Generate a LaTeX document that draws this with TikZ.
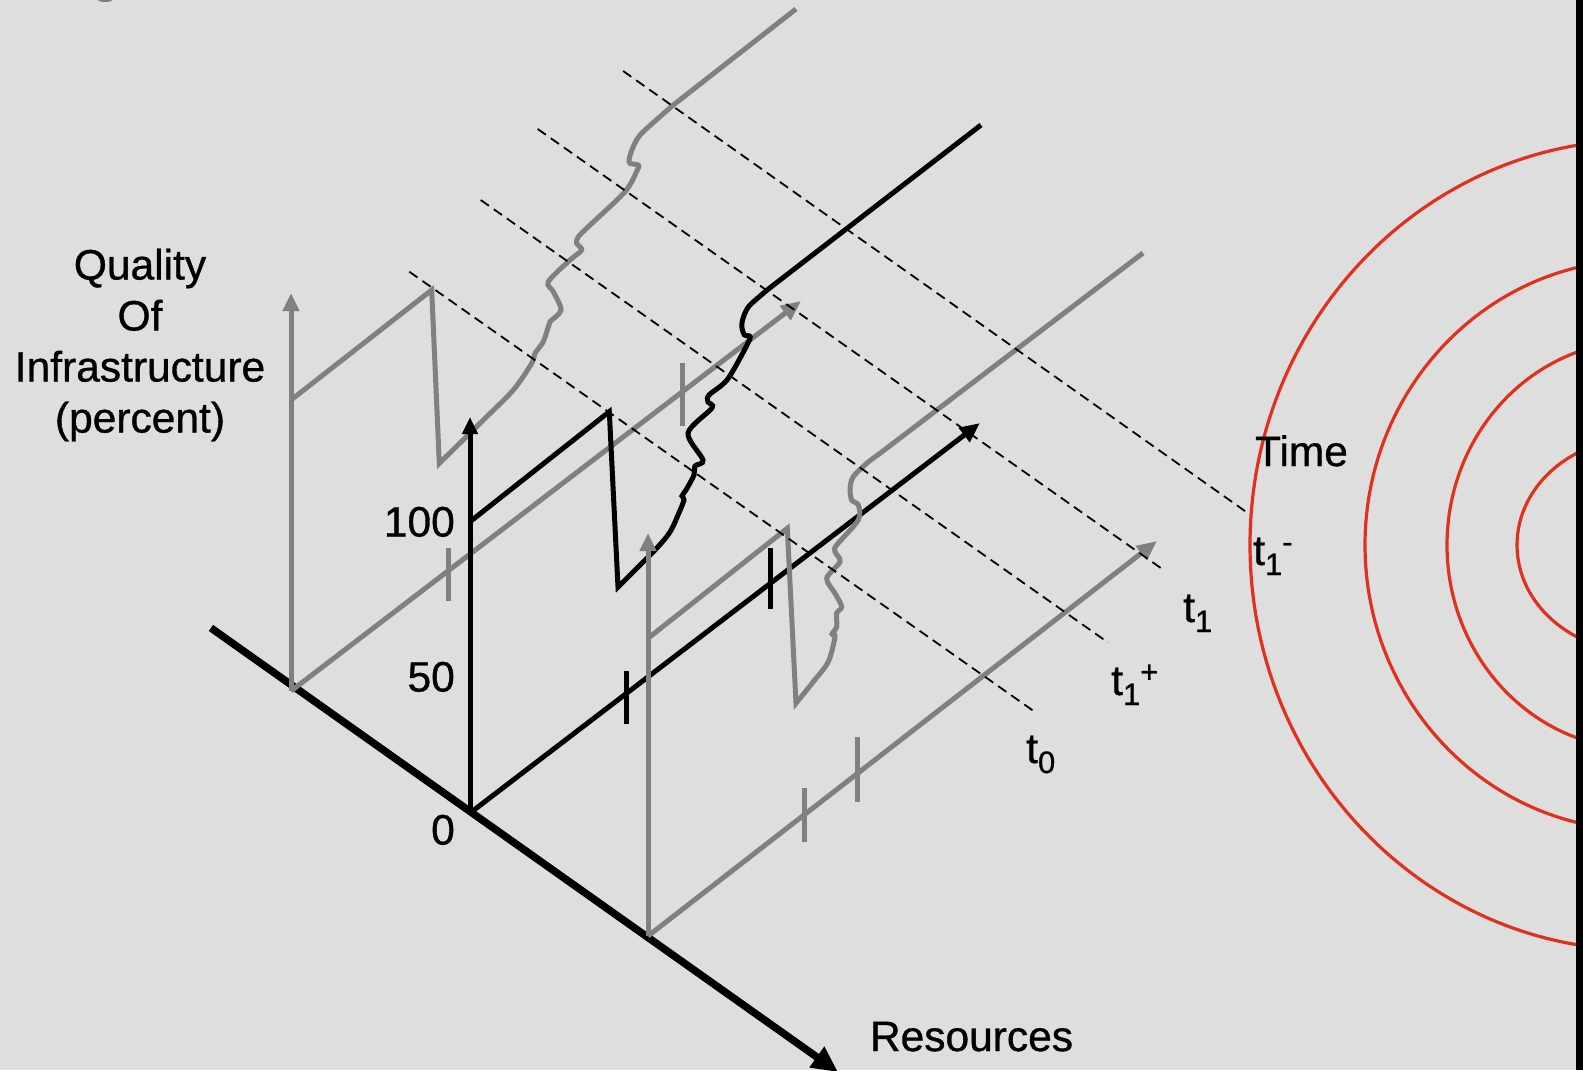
\documentclass[tikz,border=0pt]{standalone}
\usepackage{fontspec}
\setmainfont{Liberation Sans}[FakeBold=0.8]
\usetikzlibrary{arrows.meta}
\definecolor{bgc}{HTML}{DEDEDE}
\definecolor{gl}{HTML}{808080}
\definecolor{rl}{HTML}{E0301E}
\newcommand\bigf{\fontsize{42.5bp}{51bp}\selectfont}
\newcommand\smf{\fontsize{31bp}{31bp}\selectfont}
\newcommand\tsb[1]{\raisebox{-10bp}{\smf #1}}
\newcommand\tsp[1]{\raisebox{12.5bp}{\smf #1}}
\begin{document}
\begin{tikzpicture}[x=1bp,y=-1bp,line cap=butt,
  gline/.style={draw=gl,line width=5bp},
  bline/.style={draw=black,line width=5bp},
  dline/.style={draw=black,line width=1.8bp,dash pattern=on 10bp off 6bp},
  redline/.style={draw=rl,line width=3.2bp},
  lab/.style={inner sep=0pt,font=\bigf},
  vtip/.style={-{Triangle[length=18bp,width=16bp]}},
  ttip/.style={-{Triangle[length=20bp,width=17bp]}}]
\useasboundingbox (0,0) rectangle (1583,1070);
\fill[bgc] (0,0) rectangle (1583,1070);

% red ellipses
\begin{scope}
\clip (1000,0) rectangle (1576,1070);
\draw[redline] (1640,545) ellipse [x radius=390, y radius=405];
\draw[redline] (1640,545) ellipse [x radius=275, y radius=285];
\draw[redline] (1640,545) ellipse [x radius=193, y radius=204];
\draw[redline] (1640,545) ellipse [x radius=123, y radius=107];
\end{scope}
\fill[black] (1576,0) rectangle (1583,1070);
\fill[gl] (105,0) ellipse [x radius=7, y radius=2];

% key points
\coordinate (RS) at (211,628);
\coordinate (RE) at (838,1072);
\coordinate (B1) at (291,691);
\coordinate (O) at (470,813);
\coordinate (B3) at (648,936);
\coordinate (B1v) at (291,293);
\coordinate (B1t) at (801,301);
\coordinate (Ov) at (470,417);
\coordinate (Ot) at (980,423);
\coordinate (B3v) at (648,533);
\coordinate (B3t) at (1157,541);

% resources axis
\draw[line width=7.5bp,-{Triangle[length=26bp,width=24bp]}] (RS) -- (RE);

% back plane (grey)
\draw[gline,vtip] (B1) -- (B1v);
\draw[gline,ttip] (B1) -- (B1t);
\draw[gline] (448,548) -- (448,601);
\draw[gline] (682,363) -- (682,426);
\draw[gline] (291,400) -- (431.7,290) -- (439.3,463.3)
  -- plot[smooth,tension=0.5] coordinates {(439.3,463.3) (483.3,420) (513.3,390) (531.7,363.3) (535,353.3) (543.3,341.7) (548.3,326.7) (550,321.7) (561,310) (553.3,291.7) (548.3,281.7) (570,260) (581.7,250) (576.7,243.3) (578.3,236.7) (588.3,226.7) (625,191.7) (637.3,170) (638.3,165) (630,163.3) (629.3,158.3) (633.3,146.7) (641.7,133.3) (673.3,105)}
  -- (796,9);

% middle plane (black)
\draw[bline,-{Triangle[length=17bp,width=15bp]}] (O) -- (Ov);
\draw[bline,ttip] (O) -- (Ot);
\draw[bline] (626,671) -- (626,724);
\draw[bline] (770.7,548) -- (770.7,609);
\draw[bline] (470,521.7) -- (609.3,411.7) -- (618,587)
  -- plot[smooth,tension=0.5] coordinates {(618,587) (655,550) (670,532) (678,515) (684,500) (682,496) (686,490) (694,475) (695,466) (703,460) (688,433) (712,408) (708,402) (709,395) (727,380) (744.4,350) (750.2,337) (744.4,335) (742,328) (742.5,320) (748.3,307) (763.6,293) (769.3,288.3)}
  -- (981,125);

% front plane (grey)
\draw[gline,vtip] (B3) -- (B3v);
\draw[gline,ttip] (B3) -- (B3t);
\draw[gline] (804.5,788) -- (804.5,842);
\draw[gline] (857.5,737) -- (857.5,802);
\draw[gline] (648,638.3) -- (787.3,528.3) -- (796,703.3)
  -- plot[smooth,tension=0.5] coordinates {(796,703.3) (813.3,681.7) (828.3,661.7) (835,636.7) (832,634) (836.7,626.7) (836.7,613.3) (841.7,606.7) (835,593.3) (826.7,578.3) (840,561.7) (835,551.7) (836.7,545) (858.3,520) (858.3,505) (851.7,500) (850,488.3) (853.3,476.7) (866.7,463.3) (880,453.3)}
  -- (1143,253);

% time markers (dashed)
\draw[dline] (409.3,271.7) -- (1036,712.7);
\draw[dline] (480.7,200) -- (1108.3,642.7);
\draw[dline] (537.7,129) -- (1165,571);
\draw[dline] (623.1,71) -- (1250,514.6);

% labels
\node[lab,anchor=base] (q1) at (140,279.5) {Quality};
\node[lab,anchor=base] (q2) at (140,330.5) {Of};
\node[lab,anchor=base] (q3) at (140,381.5) {Infrastructure};
\node[lab,anchor=base] (q4) at (140,432.5) {(percent)};
\node[lab,anchor=base east] (l100) at (455,536.5) {100};
\node[lab,anchor=base east] (l50) at (455,691.5) {50};
\node[lab,anchor=base east] (l0) at (455,844.5) {0};
\node[lab,anchor=base] (res) at (971.5,1051) {Resources};
\node[lab,anchor=base] (time) at (1301.5,466) {Time};
\node[lab,anchor=base west] (lt0) at (1026,763) {t\tsb{0}};
\node[lab,anchor=base west] (lt1p) at (1111,695) {t\tsb{1}\tsp{+}};
\node[lab,anchor=base west] (lt1) at (1183,622) {t\tsb{1}};
\node[lab,anchor=base west] (lt1m) at (1253,565) {t\tsb{1}\tsp{-}};
\end{tikzpicture}
\end{document}
